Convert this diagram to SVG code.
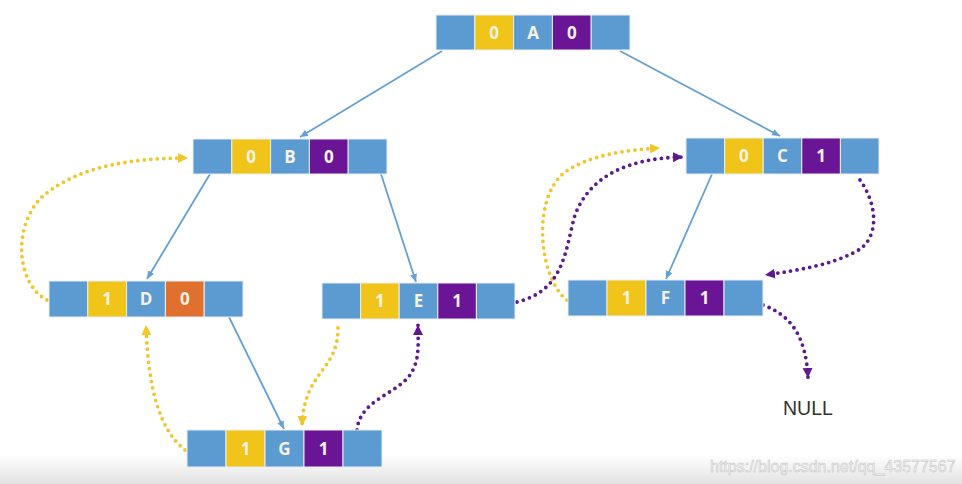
<svg xmlns="http://www.w3.org/2000/svg" width="962" height="484" viewBox="0 0 962 484">
<style>
.c{stroke:#e9eef4;stroke-width:1}
.bl{fill:#5b9bd1}
.ye{fill:#f0c419}
.pu{fill:#6a1596}
.or{fill:#e0702d}
.t{font-family:"Open Sans","Liberation Sans",sans-serif;font-size:17px;font-weight:700;fill:#f6f2e4;text-anchor:middle}
.tree{fill:none;stroke:#64a0d4;stroke-width:1.8}
.ydot{fill:none;stroke:#f0c72a;stroke-width:3.8;stroke-linecap:round;stroke-dasharray:0 6.5}
.pdot{fill:none;stroke:#5e1a8c;stroke-width:3.8;stroke-linecap:round;stroke-dasharray:0 6.5}
</style>
<defs>
<marker id="ab" markerUnits="userSpaceOnUse" markerWidth="9" markerHeight="8" refX="8" refY="3.5" orient="auto"><path d="M0,0 L8,3.5 L0,7 z" fill="#64a0d4"/></marker>
<marker id="ay" markerUnits="userSpaceOnUse" markerWidth="12" markerHeight="11" refX="10" refY="5" orient="auto"><path d="M0,0 L10,5 L0,10 z" fill="#f0c72a"/></marker>
<marker id="ap" markerUnits="userSpaceOnUse" markerWidth="12" markerHeight="11" refX="10" refY="5" orient="auto"><path d="M0,0 L10,5 L0,10 z" fill="#5e1a8c"/></marker>
<linearGradient id="bot" x1="0" y1="0" x2="0" y2="1"><stop offset="0" stop-color="#ffffff"/><stop offset="1" stop-color="#e2e2e2"/></linearGradient>
</defs>
<rect x="0" y="0" width="962" height="484" fill="#ffffff"/>
<rect x="0" y="455" width="962" height="29" fill="url(#bot)"/>

<g id="connectors">
<path class="tree" d="M442,51 L300,137" marker-end="url(#ab)"/>
<path class="tree" d="M620,51 L780,136" marker-end="url(#ab)"/>
<path class="tree" d="M210,174 L147,279" marker-end="url(#ab)"/>
<path class="tree" d="M381,174 L416,282" marker-end="url(#ab)"/>
<path class="tree" d="M712,174 L666,279" marker-end="url(#ab)"/>
<path class="tree" d="M229,317 L284,429" marker-end="url(#ab)"/>

<path class="ydot" d="M47,300 C16,284 12,225 43,196 C80,165 135,158 188,158" marker-end="url(#ay)"/>
<path class="ydot" d="M185,450 C160,430 148,390 146,325" marker-end="url(#ay)"/>
<path class="ydot" d="M338,328 C338,372 304,370 302,426" marker-end="url(#ay)"/>
<path class="ydot" d="M567,300 C540,280 530,200 565,172 C590,155 625,150 660,148" marker-end="url(#ay)"/>

<path class="pdot" d="M517,302 C565,290 565,250 575,215 C590,175 630,158 683,157" marker-end="url(#ap)"/>
<path class="pdot" d="M860,180 C878,205 880,240 855,252 C830,265 800,270 765,275" marker-end="url(#ap)"/>
<path class="pdot" d="M763,305 C790,315 806,335 808,378" marker-end="url(#ap)"/>
<path class="pdot" d="M357,430 C360,400 395,395 410,375 C420,360 418,345 418,325" marker-end="url(#ap)"/>
</g>

<g id="nodeA" transform="translate(436,15)">
<rect class="c bl" x="0" y="0" width="38.8" height="35"/>
<rect class="c ye" x="38.8" y="0" width="38.8" height="35"/>
<rect class="c bl" x="77.6" y="0" width="38.8" height="35"/>
<rect class="c pu" x="116.4" y="0" width="38.8" height="35"/>
<rect class="c bl" x="155.2" y="0" width="38.8" height="35"/>
<text class="t" x="58.2" y="23.5">0</text>
<text class="t" x="97" y="23.5">A</text>
<text class="t" x="135.8" y="23.5">0</text>
</g>

<g id="nodeB" transform="translate(193,139)">
<rect class="c bl" x="0" y="0" width="38.8" height="35"/>
<rect class="c ye" x="38.8" y="0" width="38.8" height="35"/>
<rect class="c bl" x="77.6" y="0" width="38.8" height="35"/>
<rect class="c pu" x="116.4" y="0" width="38.8" height="35"/>
<rect class="c bl" x="155.2" y="0" width="38.8" height="35"/>
<text class="t" x="58.2" y="23.5">0</text>
<text class="t" x="97" y="23.5">B</text>
<text class="t" x="135.8" y="23.5">0</text>
</g>

<g id="nodeC" transform="translate(686,138)">
<rect class="c bl" x="0" y="0" width="38.6" height="36"/>
<rect class="c ye" x="38.6" y="0" width="38.6" height="36"/>
<rect class="c bl" x="77.2" y="0" width="38.6" height="36"/>
<rect class="c pu" x="115.8" y="0" width="38.6" height="36"/>
<rect class="c bl" x="154.4" y="0" width="38.6" height="36"/>
<text class="t" x="57.9" y="24">0</text>
<text class="t" x="96.5" y="24">C</text>
<text class="t" x="135.1" y="24">1</text>
</g>

<g id="nodeD" transform="translate(49,281)">
<rect class="c bl" x="0" y="0" width="38.8" height="36"/>
<rect class="c ye" x="38.8" y="0" width="38.8" height="36"/>
<rect class="c bl" x="77.6" y="0" width="38.8" height="36"/>
<rect class="c or" x="116.4" y="0" width="38.8" height="36"/>
<rect class="c bl" x="155.2" y="0" width="38.8" height="36"/>
<text class="t" x="58.2" y="24">1</text>
<text class="t" x="97" y="24">D</text>
<text class="t" x="135.8" y="24">0</text>
</g>

<g id="nodeE" transform="translate(322,283)">
<rect class="c bl" x="0" y="0" width="38.6" height="36"/>
<rect class="c ye" x="38.6" y="0" width="38.6" height="36"/>
<rect class="c bl" x="77.2" y="0" width="38.6" height="36"/>
<rect class="c pu" x="115.8" y="0" width="38.6" height="36"/>
<rect class="c bl" x="154.4" y="0" width="38.6" height="36"/>
<text class="t" x="57.9" y="24">1</text>
<text class="t" x="96.5" y="24">E</text>
<text class="t" x="135.1" y="24">1</text>
</g>

<g id="nodeF" transform="translate(568,280)">
<rect class="c bl" x="0" y="0" width="39" height="36"/>
<rect class="c ye" x="39" y="0" width="39" height="36"/>
<rect class="c bl" x="78" y="0" width="39" height="36"/>
<rect class="c pu" x="117" y="0" width="39" height="36"/>
<rect class="c bl" x="156" y="0" width="39" height="36"/>
<text class="t" x="58.5" y="24">1</text>
<text class="t" x="97.5" y="24">F</text>
<text class="t" x="136.5" y="24">1</text>
</g>

<g id="nodeG" transform="translate(187,430)">
<rect class="c bl" x="0" y="0" width="39" height="37"/>
<rect class="c ye" x="39" y="0" width="39" height="37"/>
<rect class="c bl" x="78" y="0" width="39" height="37"/>
<rect class="c pu" x="117" y="0" width="39" height="37"/>
<rect class="c bl" x="156" y="0" width="39" height="37"/>
<text class="t" x="58.5" y="24.5">1</text>
<text class="t" x="97.5" y="24.5">G</text>
<text class="t" x="136.5" y="24.5">1</text>
</g>

<g id="null">
<text x="783" y="415" font-family="'Liberation Sans','Open Sans',sans-serif" font-size="19.5" fill="#333333">NULL</text>
</g>

<text x="710" y="472" font-family="'Liberation Sans',sans-serif" font-size="16" fill="#f4f4f4" stroke="#c4c4c4" stroke-width="0.5">https://blog.csdn.net/qq_43577567</text>
</svg>
